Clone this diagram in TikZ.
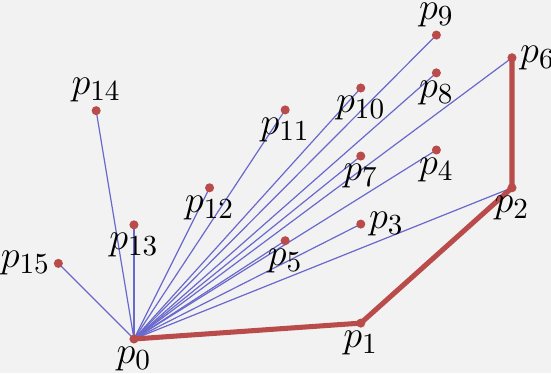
\documentclass[tikz,border=0pt]{standalone}
\usepackage{amsmath,amssymb}
\usepackage{tikz}
\usepackage{xcolor}
\usetikzlibrary{positioning, calc}
\definecolor{hullred}{RGB}{185, 75, 75}
\definecolor{rayblue}{RGB}{105, 105, 205}
\definecolor{bggray}{RGB}{242, 242, 242}

\begin{document}
\begin{tikzpicture}[
    dot/.style={circle, fill=hullred, inner sep=0pt, minimum size=0.12cm,
                label distance=0cm},
    ray/.style={rayblue, line width=0.45pt},
    hull/.style={hullred, line width=1.9pt, line join=round},
    every label/.style={font=\fontsize{15}{17}\selectfont, inner sep=1pt}]

% Background
\fill[bggray] (-1.772,-0.45) rectangle (5.516,4.484);
\useasboundingbox (-1.772,-0.45) rectangle (5.516,4.484);

% Points
\foreach \i/\x/\y in {0/0/0, 1/3/0.21, 2/5/2, 3/3/1.52, 4/4/2.5, 5/2/1.3,
    6/5/3.72, 7/3/2.42, 8/4/3.52, 9/4/4.02, 10/3/3.32, 11/2/3.03, 12/1/2,
    13/0/1.51, 14/-0.5/3.02, 15/-1/1}
  \coordinate (p\i) at (\x,\y);

% Rays from p0
\foreach \i in {2,...,15}
  \draw[ray] (p0) -- (p\i);

% Hull
\draw[hull] (p0) -- (p1) -- (p2) -- (p6);

% Dots and labels
\foreach \i/\pos in {0/below, 1/below, 2/below, 3/right, 4/below, 5/below,
    6/right, 7/below, 8/below, 9/above, 10/below, 11/below, 12/below,
    13/below, 14/above, 15/left}
  \node[dot, label={\pos:$p_{\i}$}] (d\i) at (p\i) {};

\end{tikzpicture}
\end{document}
